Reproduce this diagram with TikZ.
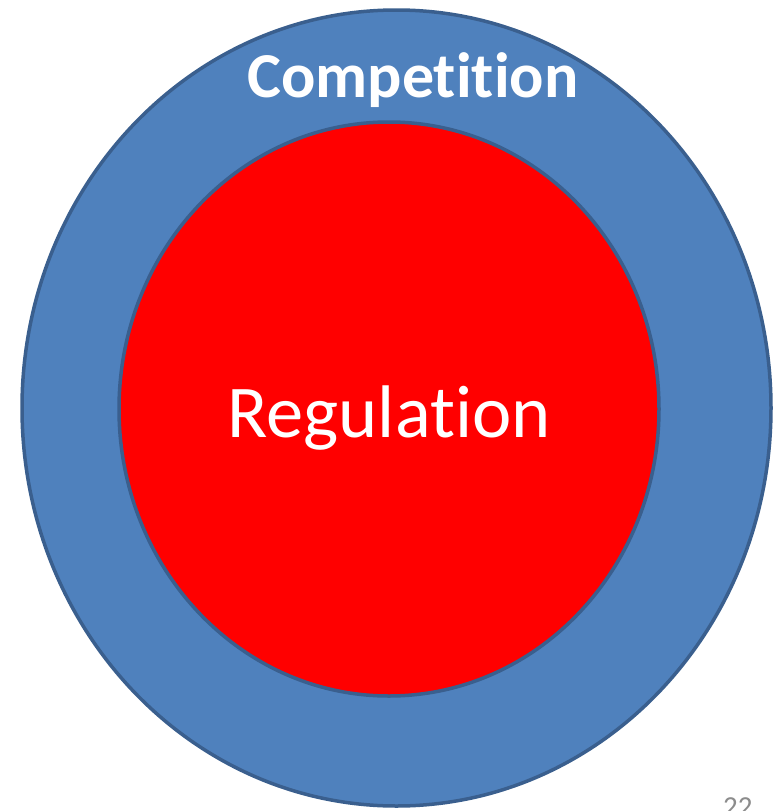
\documentclass[tikz,border=0pt]{standalone}
\usepackage{fontspec}
\setmainfont[Ligatures=NoCommon]{Carlito}
\usetikzlibrary{shapes.geometric}

\definecolor{ringblue}{HTML}{4F81BD}
\definecolor{ringedge}{HTML}{3A5F8E}
\definecolor{pagegray}{HTML}{8C8C8C}

\begin{document}
\begin{tikzpicture}[x=1pt, y=1pt]
    \useasboundingbox (0,0) rectangle (783,-811);

    \coordinate (O) at (396.5,-408);
    \coordinate (I) at (389,-409);

    \node[ellipse, draw=ringedge, fill=ringblue, line width=3.5pt, inner sep=0pt,
          minimum width=749pt, minimum height=796pt] (outer) at (O) {};
    \node[ellipse, draw=ringedge, fill=red, line width=3.5pt, inner sep=0pt,
          minimum width=540pt, minimum height=574pt] (inner) at (I) {};

    \node[anchor=base, text=white, font=\fontsize{64}{64}\selectfont\bfseries] (comp) at (413,-97) {Competition};
    \node[anchor=base, text=white, font=\fontsize{74.5}{74.5}\selectfont] (reg) at (389,-437) {Regulation};

    \node[anchor=base west, inner sep=0pt, text=pagegray, font=\fontsize{29}{29}\selectfont] (page) at (723,-816) {22};
\end{tikzpicture}
\end{document}
